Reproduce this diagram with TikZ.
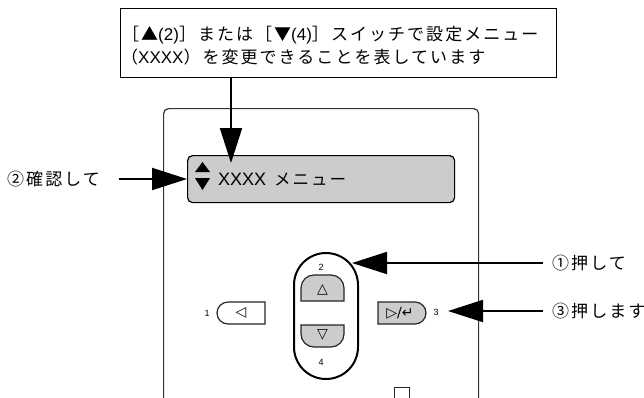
\documentclass[tikz,border=0pt]{standalone}
\usepackage{fontspec}
\setmainfont{Liberation Sans}
\newfontfamily\jpf{Noto Sans CJK JP}[LetterSpace=12]
\newfontfamily\symf{DejaVu Sans}
\usetikzlibrary{arrows.meta}
\newcommand\myLat[1]{{\rmfamily #1}}
\begin{document}
\begin{tikzpicture}[x=1pt,y=-1pt,
  arr/.style={line width=2pt,-{Triangle[length=35pt,width=22pt]}},
  jtext/.style={font=\jpf\fontsize{17}{20}\selectfont, inner sep=0pt},
  smallnum/.style={font=\fontsize{9}{10}\selectfont, inner sep=0pt},
  symtext/.style={font=\symf\fontsize{14}{16}\selectfont, inner sep=0pt},
  btn/.style={line width=1.2pt, draw=black!85},
  grayfill/.style={fill=black!20}]
\useasboundingbox (0,0) rectangle (644,397);
\clip (0,0) rectangle (644,397);

% panel
\node[draw=black!80, line width=1.2pt, rounded corners=5pt, minimum width=315pt,
      minimum height=330pt, anchor=north west, inner sep=0pt] (panel) at (163,108) {};

% note box
\node[draw, line width=1.3pt, minimum width=436pt, minimum height=69pt,
      anchor=north west, inner sep=0pt] (note) at (120,8) {};
\node[jtext, anchor=base west] (l1) at (122,40)
  {［▲\myLat{(2)}］または［▼\myLat{(4)}］スイッチで設定メニュー};
\node[jtext, anchor=base west] (l2) at (121,63)
  {（\myLat{XXXX}）を変更できることを表しています};

% display
\node[draw, line width=1.2pt, grayfill, rounded corners=5pt, minimum width=267pt,
      minimum height=47pt, anchor=north west, inner sep=0pt] (disp) at (187,155) {};
\fill (195,172) -- (202.5,162) -- (210,172) -- cycle;
\fill (195,178) -- (202.5,190) -- (210,178) -- cycle;
\node[anchor=base west, inner sep=0pt, font=\fontsize{18}{20}\selectfont] (dtext) at (218,185)
  {XXXX\hspace{8pt}{\jpf\fontsize{16.5}{20}\selectfont メニュー}};

% top arrow
\coordinate (t0) at (231,163);
\draw[arr] (note.south -| t0) -- (t0);

% left label and arrow
\node[jtext, anchor=west] (lab2) at (7,179) {②確認して};
\draw[arr, shorten <=19pt] (lab2.east) -- (disp.west |- lab2.east);

% oval with up/down buttons
\node[draw, line width=2pt, rounded corners=32pt, minimum width=64pt, minimum height=126pt,
      anchor=north west, inner sep=0pt] (oval) at (293,252) {};
\node[smallnum] (n2) at (321,267) {2};
\node[smallnum] (n4) at (321,362) {4};
\draw[btn, grayfill] (301,301) -- (301,288) arc[start angle=180, end angle=90, radius=13pt]
  -- (331,275) arc[start angle=90, end angle=0, radius=13pt] -- (344,301) -- cycle;
\node[symtext] (upsym) at (322.5,290) {△};
\draw[btn, grayfill] (301,325) -- (344,325) -- (344,334) arc[start angle=0, end angle=-90, radius=13pt]
  -- (314,347) arc[start angle=-90, end angle=-180, radius=13pt] -- cycle;
\node[symtext] (dnsym) at (322.5,335) {▽};

% left button
\draw[btn, fill=white] (265,302) -- (228,302) arc[start angle=90, end angle=270, radius=11pt]
  -- (265,324) -- cycle;
\node[symtext] (lsym) at (241,313) {◁};
\node[smallnum] (n1) at (207,313) {1};

% right button
\draw[btn, grayfill] (378,302) -- (415,302) arc[start angle=90, end angle=-90, radius=11pt]
  -- (378,324) -- cycle;
\node[symtext] (rsym) at (400,313) {▷/↵};
\node[smallnum] (n3) at (436,312) {3};

% right labels and arrows
\node[jtext, anchor=west] (lab1) at (552,263) {①押して};
\coordinate (t1) at (352,263);
\draw[arr, shorten <=9pt] (lab1.west) -- (t1);

\node[jtext, anchor=west] (lab3) at (552,311) {③押します};
\coordinate (t3) at (448,311);
\draw[arr, shorten <=9pt] (lab3.west) -- (t3);

% bottom small element
\draw[line width=1pt, black!85] (394,402) -- (394,387) -- (409,387) -- (409,402);
\end{tikzpicture}
\end{document}
